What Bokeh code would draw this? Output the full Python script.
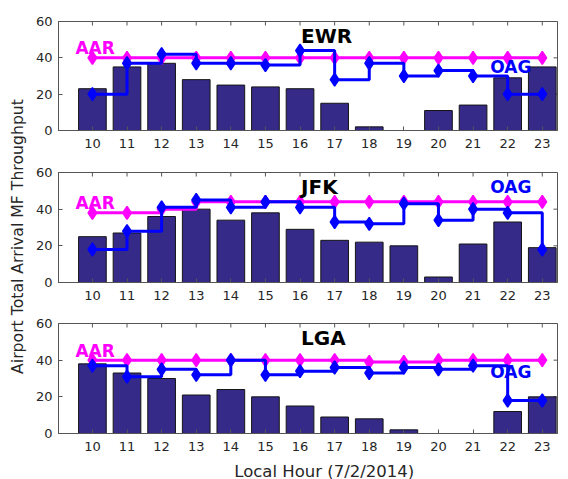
import math
from bokeh.plotting import figure
from bokeh.layouts import column, row
from bokeh.models import Range1d, FixedTicker
from bokeh.core.properties import value
from bokeh.embed import file_html
from bokeh.resources import INLINE

# ---------------- data ----------------
hours = [10, 11, 12, 13, 14, 15, 16, 17, 18, 19, 20, 21, 22, 23]
y_ticks = [0, 20, 40, 60]

ewr_mf = [23, 35, 37, 28, 25, 24, 23, 15, 2, 0, 11, 14, 29, 35]
ewr_aar = [40, 40, 40, 40, 40, 40, 40, 40, 40, 40, 40, 40, 40, 40]
ewr_oag = [20, 37, 42, 37, 37, 36, 44, 28, 37, 30, 33, 30, 20, 20]

jfk_mf = [25, 27, 36, 40, 34, 38, 29, 23, 22, 20, 3, 21, 33, 19]
jfk_aar = [38, 38, 40, 44, 44, 44, 44, 44, 44, 44, 44, 44, 44, 44]
jfk_oag = [18, 28, 41, 45, 41, 44, 41, 33, 32, 43, 34, 40, 38, 18]

lga_mf = [38, 33, 30, 21, 24, 20, 15, 9, 8, 2, 0, 0, 12, 20]
lga_aar = [40, 40, 40, 40, 40, 40, 40, 40, 39, 39, 40, 40, 40, 40]
lga_oag = [37, 31, 35, 32, 40, 32, 34, 36, 33, 36, 35, 37, 18, 18]

airports = ["EWR", "JFK", "LGA"]
y_label = "Airport Total Arrival MF Throughput"
x_label = "Local Hour (7/2/2014)"

# ---------------- style ----------------
FONT = "DejaVu Sans"
AXIS_COLOR = "#555555"
TEXT_COLOR = "#262626"
BAR_COLOR = "#352a87"
AAR_COLOR = "#ff00ff"
OAG_COLOR = "#0000ff"
PANEL_W = 536
LEFT_W = 32
X_START, X_END = 9.02, 23.44
Y_START, Y_END = 0, 60


def style_axis(axis, standoff):
    axis.axis_line_color = AXIS_COLOR
    axis.major_tick_line_color = AXIS_COLOR
    axis.major_tick_in = 4
    axis.major_tick_out = 0
    axis.minor_tick_in = 0
    axis.minor_tick_out = 0
    axis.major_label_text_font = FONT
    axis.major_label_text_font_size = "13px"
    axis.major_label_text_color = TEXT_COLOR
    axis.major_label_standoff = standoff


def make_panel(name, mf, aar, oag, aar_y, oag_y, border_top, frame_h, border_bottom):
    p = figure(width=PANEL_W, height=border_top + frame_h + border_bottom,
               x_range=Range1d(X_START, X_END), y_range=Range1d(Y_START, Y_END),
               output_backend="svg", toolbar_location=None,
               min_border_left=26, min_border_right=11,
               min_border_top=border_top, min_border_bottom=border_bottom)
    p.xgrid.visible = False
    p.ygrid.visible = False
    p.outline_line_color = AXIS_COLOR
    p.background_fill_color = "white"
    p.border_fill_color = "white"

    p.xaxis.ticker = FixedTicker(ticks=hours)
    p.yaxis.ticker = FixedTicker(ticks=y_ticks)
    style_axis(p.xaxis[0], 8)
    style_axis(p.yaxis[0], 6)

    # inward ticks on the top and right edges (box style)
    ty = 4 * (Y_END - Y_START) / frame_h
    tx = 4 * (X_END - X_START) / 499
    p.segment(x0=hours, y0=[Y_END] * len(hours), x1=hours, y1=[Y_END - ty] * len(hours),
              line_color=AXIS_COLOR, line_width=1)
    p.segment(x0=[X_END] * len(y_ticks), y0=y_ticks, x1=[X_END - tx] * len(y_ticks), y1=y_ticks,
              line_color=AXIS_COLOR, line_width=1)

    p.vbar(x=hours, top=mf, width=0.8, fill_color=BAR_COLOR,
           line_color="#151515", line_width=1)

    p.step(x=hours, y=aar, mode="after", line_color=AAR_COLOR, line_width=3)
    p.scatter(x=hours, y=aar, marker="diamond", size=13,
              fill_color=AAR_COLOR, line_color=AAR_COLOR, line_width=1.5)
    p.step(x=hours, y=oag, mode="after", line_color=OAG_COLOR, line_width=3)
    p.scatter(x=hours, y=oag, marker="diamond", size=13,
              fill_color=OAG_COLOR, line_color=OAG_COLOR, line_width=1.5)

    p.text(x=[16.03], y=[52.2], text=[name], text_font=value(FONT),
           text_font_style="bold", text_font_size="20px", text_color="black",
           text_align="left", text_baseline="middle")
    p.text(x=[9.51], y=[aar_y], text=["AAR"], text_font=value(FONT),
           text_font_style="bold", text_font_size="17px", text_color=AAR_COLOR,
           text_align="left", text_baseline="middle")
    p.text(x=[21.5], y=[oag_y], text=["OAG"], text_font=value(FONT),
           text_font_style="bold", text_font_size="17px", text_color=OAG_COLOR,
           text_align="left", text_baseline="middle")
    return p


f1 = make_panel(airports[0], ewr_mf, ewr_aar, ewr_oag, 45.5, 34.8, 21, 109, 26)
f2 = make_panel(airports[1], jfk_mf, jfk_aar, jfk_oag, 43.4, 52.0, 16, 110, 26)
f3 = make_panel(airports[2], lga_mf, lga_aar, lga_oag, 45.0, 33.4, 15, 110, 24)

# x label strip
xl = figure(width=PANEL_W, height=22, x_range=Range1d(0, PANEL_W), y_range=Range1d(22, 0),
            output_backend="svg", toolbar_location=None,
            x_axis_location=None, y_axis_location=None,
            min_border_left=0, min_border_right=0, min_border_top=0, min_border_bottom=0)
xl.outline_line_color = None
xl.xgrid.visible = False
xl.ygrid.visible = False
xl.text(x=[285.5], y=[13.5], text=[x_label], text_font=value(FONT),
        text_font_size="16.5px", text_color=TEXT_COLOR,
        text_align="center", text_baseline="middle")

# y label strip
yl = figure(width=LEFT_W, height=479, x_range=Range1d(0, LEFT_W), y_range=Range1d(479, 0),
            output_backend="svg", toolbar_location=None,
            x_axis_location=None, y_axis_location=None,
            min_border_left=0, min_border_right=0, min_border_top=0, min_border_bottom=0)
yl.outline_line_color = None
yl.xgrid.visible = False
yl.ygrid.visible = False
yl.text(x=[17], y=[236], text=[y_label], text_font=value(FONT),
        text_font_size="15.7px", text_color=TEXT_COLOR, angle=math.pi / 2,
        text_align="center", text_baseline="middle")

layout = row(yl, column(f1, f2, f3, xl, spacing=0), spacing=0)

open("out.html", "w").write(file_html(layout, INLINE))
